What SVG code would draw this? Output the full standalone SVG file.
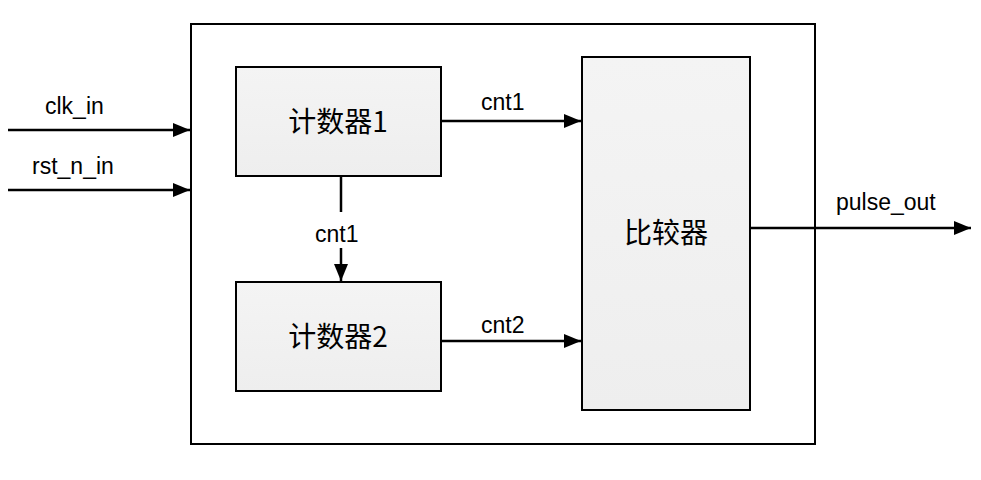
<svg xmlns="http://www.w3.org/2000/svg" width="981" height="480" viewBox="0 0 981 480">
<defs>
<marker id="ah" markerWidth="17" markerHeight="14" refX="17" refY="7" orient="auto" markerUnits="userSpaceOnUse"><path d="M0,0 L17,7 L0,14 z" fill="#000"/></marker>
<linearGradient id="g" x1="0" y1="0" x2="0" y2="1"><stop offset="0" stop-color="#f4f4f4"/><stop offset="1" stop-color="#eeeeee"/></linearGradient>
</defs>
<style>
.b{fill:url(#g);stroke:#000;stroke-width:2}
.l{stroke:#000;stroke-width:2.5;fill:none;marker-end:url(#ah)}
.t{font-family:"Liberation Sans","Noto Sans CJK SC",sans-serif;font-size:23px;fill:#000}
.c{font-family:"Noto Sans CJK SC",sans-serif;font-size:28px;fill:#000;text-anchor:middle}
</style>
<rect width="981" height="480" fill="#fff"/>
<g id="outer"><rect x="191" y="24" width="624" height="420" fill="#fff" stroke="#000" stroke-width="2"/></g>
<g id="counter1"><rect class="b" x="236" y="67" width="205" height="109"/><text class="c" x="338" y="132">计数器1</text></g>
<g id="counter2"><rect class="b" x="236" y="282" width="205" height="109"/><text class="c" x="338" y="347">计数器2</text></g>
<g id="comparator"><rect class="b" x="582" y="57" width="168" height="353"/><text class="c" x="666" y="243">比较器</text></g>
<g id="connectors">
<line class="l" x1="8" y1="130" x2="190" y2="130"/>
<line class="l" x1="8" y1="190" x2="190" y2="190"/>
<line class="l" x1="441" y1="121" x2="581" y2="121"/>
<line x1="341" y1="176" x2="341" y2="212" stroke="#000" stroke-width="2.5"/>
<line class="l" x1="341" y1="248" x2="341" y2="281"/>
<line class="l" x1="441" y1="341" x2="581" y2="341"/>
<line class="l" x1="750" y1="228" x2="971" y2="228"/>
</g>
<g id="labels">
<text class="t" x="45" y="114">clk_in</text>
<text class="t" x="32" y="174">rst_n_in</text>
<text class="t" x="481" y="110">cnt1</text>
<text class="t" x="315" y="242">cnt1</text>
<text class="t" x="481" y="333">cnt2</text>
<text class="t" x="836" y="210">pulse_out</text>
</g>
</svg>
